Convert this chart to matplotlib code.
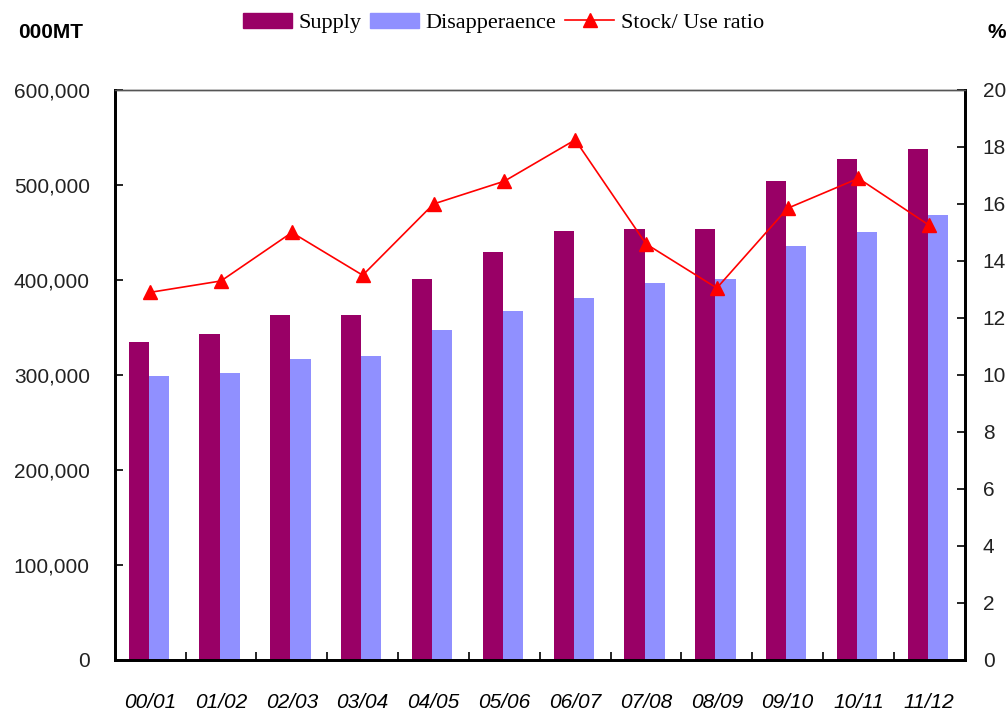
import matplotlib
matplotlib.use("Agg")
import matplotlib.pyplot as plt
import numpy as np
from matplotlib.lines import Line2D
from matplotlib.patches import Patch

seasons = ["00/01", "01/02", "02/03", "03/04", "04/05", "05/06",
           "06/07", "07/08", "08/09", "09/10", "10/11", "11/12"]
supply = [335000, 343000, 363000, 363000, 401000, 429000,
          452000, 454000, 454000, 504000, 527000, 538000]
disappearance = [299000, 302000, 317000, 320000, 347000, 367000,
                 381000, 397000, 401000, 436000, 450000, 468000]
stock_use = [12.9, 13.3, 15.0, 13.5, 16.0, 16.8,
             18.25, 14.6, 13.05, 15.85, 16.9, 15.25]

sans = ["Liberation Sans Narrow", "Liberation Sans", "DejaVu Sans"]
serif = ["Liberation Serif", "DejaVu Serif"]
c_sup = "#990066"
c_dis = "#9090FF"

fig = plt.figure(figsize=(10.07, 7.17), dpi=100)
ax = fig.add_axes([0.114, 0.0795, 0.844, 0.795])
ax2 = ax.twinx()

x = np.arange(len(seasons))
w = 0.285
ax.bar(x - w / 2 - 0.02, supply, w, color=c_sup, zorder=2)
ax.bar(x + w / 2 - 0.02, disappearance, w, color=c_dis, zorder=2)
ax2.plot(x, stock_use, color="red", lw=1.2, marker="^", ms=10, zorder=3)

ax.set_xlim(-0.5, len(seasons) - 0.5)
ax.set_ylim(0, 600000)
ax2.set_ylim(0, 20)
ax.set_yticks(np.arange(0, 600001, 100000))
ax.set_yticklabels([f"{v:,}" for v in range(0, 600001, 100000)],
                   family=sans, fontsize=15, color="#222222")
ax2.set_yticks(np.arange(0, 21, 2))
ax2.set_yticklabels([str(v) for v in range(0, 21, 2)],
                    family=sans, fontsize=15, color="#222222")
ax.set_xticks(x)
ax.set_xticklabels(seasons, family=sans, fontsize=15, style="italic")
ax.set_xticks(np.arange(0.5, len(seasons) - 1, 1), minor=True)
ax.tick_params(axis="x", which="major", length=0, pad=24)
ax.tick_params(axis="x", which="minor", direction="in", length=6, width=1.2)
ax.tick_params(axis="y", direction="in", length=6, width=1.2, pad=18)
ax2.tick_params(axis="y", direction="in", length=6, width=1.2, pad=13)

for a in (ax, ax2):
    for side in ("left", "bottom", "right"):
        a.spines[side].set_linewidth(2)
    a.spines["top"].set_linewidth(1)
    a.spines["top"].set_color("#555555")

fig.text(0.018, 0.955, "000MT", family=sans, fontsize=15, weight="bold",
         ha="left", va="center")
fig.text(0.981, 0.955, "%", family=sans, fontsize=15, weight="bold",
         ha="left", va="center")

handles = [Patch(color=c_sup, label="Supply"),
           Patch(color=c_dis, label="Disapperaence"),
           Line2D([], [], color="red", marker="^", ms=10, lw=1.2,
                  label="Stock/ Use ratio")]
fig.legend(handles=handles, loc="center", bbox_to_anchor=(0.5, 0.968),
           ncol=3, frameon=False, prop={"family": serif, "size": 16},
           handlelength=2.2, handletextpad=0.3, columnspacing=0.4)

fig.savefig("out.png", dpi=100)
